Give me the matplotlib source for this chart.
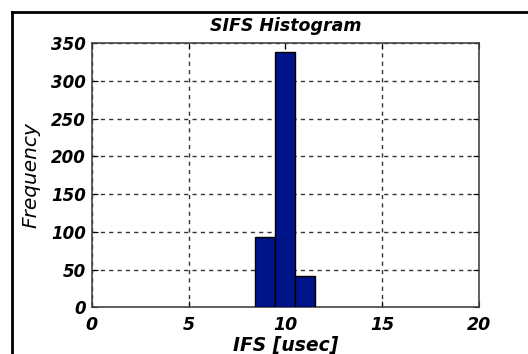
import matplotlib
matplotlib.use("Agg")
import matplotlib.pyplot as plt
from matplotlib.lines import Line2D

# histogram bins
bin_edges = [8.43, 9.46, 10.49, 11.52]
counts = [93, 338, 42]

x_ticks = [0, 5, 10, 15, 20]
y_ticks = [0, 50, 100, 150, 200, 250, 300, 350]

font = dict(family="DejaVu Sans", weight="bold", style="italic")

fig = plt.figure(figsize=(5.28, 3.54), dpi=100)
ax = fig.add_axes([0.1737, 0.132, 0.7333, 0.7457])

ax.hist(bin_edges[:-1], bins=bin_edges, weights=counts,
        color="#001489", edgecolor="black", linewidth=1.0, zorder=3)

ax.set_xlim(0, 20)
ax.set_ylim(0, 350)
ax.set_xticks(x_ticks)
ax.set_yticks(y_ticks)
ax.set_xticklabels([str(t) for t in x_ticks], fontsize=12.5, **font)
ax.set_yticklabels([str(t) for t in y_ticks], fontsize=12, **font)
ax.tick_params(direction="in", length=4, top=True, right=True)
ax.tick_params(axis="x", pad=6)
ax.tick_params(axis="y", pad=4)
ax.grid(True, linestyle=(0, (3, 3)), color="#333333", linewidth=1.0, zorder=0)
for s in ax.spines.values():
    s.set_color("#444444")
    s.set_linewidth(1.2)

ax.set_title("SIFS Histogram", fontsize=12.5, pad=9, **font)
ax.set_xlabel("IFS [usec]", fontsize=13.5, labelpad=2, **font)
ax.set_ylabel("Frequency", fontsize=14.5, labelpad=8,
              family="DejaVu Sans", style="italic")

# frame lines on the top and left of the figure
fig.add_artist(Line2D([12 / 528, 12 / 528], [0, 1 - 12 / 354],
                      transform=fig.transFigure, color="black", linewidth=2))
fig.add_artist(Line2D([12 / 528, 1], [1 - 12 / 354, 1 - 12 / 354],
                      transform=fig.transFigure, color="black", linewidth=2))

fig.savefig("out.png", dpi=100)
